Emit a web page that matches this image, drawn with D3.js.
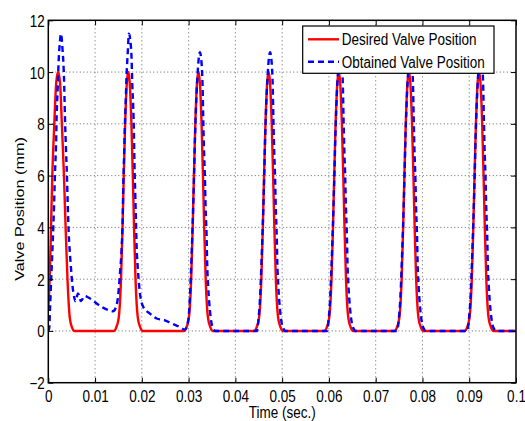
<!DOCTYPE html>
<html><head><meta charset="utf-8">
<script src="https://cdn.jsdelivr.net/npm/d3@7"></script>
<style>html,body{margin:0;padding:0;background:#fff;} svg{display:block;}</style>
</head><body>
<svg id="chart" width="525" height="421"></svg>
<script>
const xTicks = [0,0.01,0.02,0.03,0.04,0.05,0.06,0.07,0.08,0.09,0.1];
const xTickLabels = ["0","0.01","0.02","0.03","0.04","0.05","0.06","0.07","0.08","0.09","0.1"];
const yTicks = [-2,0,2,4,6,8,10,12];
const yTickLabels = ["\u22122","0","2","4","6","8","10","12"];
const seriesNames = ["Desired Valve Position","Obtained Valve Position"];
const xTitle = "Time (sec.)";
const yTitle = "Valve Position (mm)";

// Desired valve position [time (s), position (mm)]
const desiredPoints = [
[0,0.9],[0.0003,2],[0.00058,4],[0.00086,6],[0.00128,8],[0.0017,9.6],[0.0021,10],[0.0025,9.6],[0.0029,8],[0.00335,6],[0.0037,4],[0.0041,2],[0.0046,0.5],[0.0051,0.12],[0.0056,0],
[0.0140,0],[0.0145,0.12],[0.01505,0.5],[0.01555,2],[0.01587,4],[0.01613,6],[0.01643,8],[0.0168,9.6],[0.0171,10],[0.0174,9.6],[0.01777,8],[0.01807,6],[0.01833,4],[0.01865,2],[0.01915,0.5],[0.0197,0.12],[0.0202,0],
[0.0290,0],[0.0295,0.12],[0.03005,0.5],[0.03055,2],[0.03087,4],[0.03113,6],[0.03143,8],[0.0318,9.6],[0.0321,10],[0.0324,9.6],[0.03277,8],[0.03307,6],[0.03333,4],[0.03365,2],[0.03415,0.5],[0.0347,0.12],[0.0352,0],
[0.0440,0],[0.0445,0.12],[0.04505,0.5],[0.04555,2],[0.04587,4],[0.04613,6],[0.04643,8],[0.0468,9.6],[0.0471,10],[0.0474,9.6],[0.04777,8],[0.04807,6],[0.04833,4],[0.04865,2],[0.04915,0.5],[0.0497,0.12],[0.0502,0],
[0.0590,0],[0.0595,0.12],[0.06005,0.5],[0.06055,2],[0.06087,4],[0.06113,6],[0.06143,8],[0.0618,9.6],[0.0621,10],[0.0624,9.6],[0.06277,8],[0.06307,6],[0.06333,4],[0.06365,2],[0.06415,0.5],[0.0647,0.12],[0.0652,0],
[0.0740,0],[0.0745,0.12],[0.07505,0.5],[0.07555,2],[0.07587,4],[0.07613,6],[0.07643,8],[0.0768,9.6],[0.0771,10],[0.0774,9.6],[0.07777,8],[0.07807,6],[0.07833,4],[0.07865,2],[0.07915,0.5],[0.0797,0.12],[0.0802,0],
[0.0890,0],[0.0895,0.12],[0.09005,0.5],[0.09055,2],[0.09087,4],[0.09113,6],[0.09143,8],[0.0918,9.6],[0.0921,10],[0.0924,9.6],[0.09277,8],[0.09307,6],[0.09333,4],[0.09365,2],[0.09415,0.5],[0.0947,0.12],[0.0952,0],
[0.1,0]
];

// Obtained valve position [time (s), position (mm)]
const obtainedPoints = [
[0,0],[0.0002,0.1],[0.00036,0.8],[0.00064,2.1],[0.00085,3.0],[0.00107,4.0],[0.00122,4.8],[0.00143,6.1],[0.00165,7.2],[0.00179,8.3],[0.00201,9.4],[0.00222,10.45],[0.0025,11.2],[0.00271,11.48],[0.00303,10.9],[0.00335,9.8],[0.00357,8.2],[0.00378,7.0],[0.004,5.9],[0.00415,4.9],[0.00436,3.8],[0.00474,2.7],[0.00517,1.75],[0.0056,1.25],[0.00581,1.15],[0.00635,1.45],[0.00699,1.15],[0.00774,1.35],[0.00848,1.3],[0.00934,1.2],[0.01041,1.05],[0.01169,0.9],[0.01297,0.8],[0.01383,0.76],[0.01442,0.9],
[0.01489,1.3],[0.01532,2.2],[0.01568,3.2],[0.0159,4.27],[0.01603,5.56],[0.01618,6.6],[0.01632,7.6],[0.01654,8.78],[0.01675,9.94],[0.01697,10.7],[0.01724,11.48],[0.01761,11.1],[0.01782,10.45],[0.01795,9.55],[0.01816,8.65],[0.01831,7.6],[0.01842,6.46],[0.01859,5.3],[0.01874,4.27],[0.01889,3.24],[0.01917,2.34],[0.0196,1.44],[0.0203,0.93],[0.02173,0.67],[0.02316,0.48],[0.02494,0.41],[0.02637,0.29],[0.02814,0.15],[0.02921,0.05],
[0.02991,0.4],[0.03028,1.3],[0.03049,2.2],[0.0307,3.24],[0.03098,4.79],[0.03118,6.08],[0.03135,7.36],[0.03156,8.52],[0.03184,9.68],[0.0322,10.58],[0.03241,10.77],[0.03278,10.32],[0.03299,9.42],[0.03312,8.26],[0.03327,7.1],[0.03348,5.95],[0.03363,4.79],[0.03385,3.63],[0.03397,2.6],[0.03419,1.7],[0.03455,0.8],[0.03491,0.29],[0.0353,0.08],[0.0357,0],
[0.0446,0],[0.04491,0.4],[0.04528,1.3],[0.04549,2.2],[0.0457,3.24],[0.04598,4.79],[0.04618,6.08],[0.04635,7.36],[0.04656,8.52],[0.04684,9.68],[0.0472,10.58],[0.04741,10.77],[0.04778,10.32],[0.04799,9.42],[0.04812,8.26],[0.04827,7.1],[0.04848,5.95],[0.04863,4.79],[0.04885,3.63],[0.04897,2.6],[0.04919,1.7],[0.04955,0.8],[0.04991,0.29],[0.0503,0.08],[0.0507,0],
[0.0596,0],[0.05991,0.4],[0.06028,1.3],[0.06049,2.2],[0.0607,3.24],[0.06098,4.79],[0.06118,6.08],[0.06135,7.36],[0.06156,8.52],[0.06184,9.68],[0.0622,10.58],[0.06241,10.77],[0.06278,10.32],[0.06299,9.42],[0.06312,8.26],[0.06327,7.1],[0.06348,5.95],[0.06363,4.79],[0.06385,3.63],[0.06397,2.6],[0.06419,1.7],[0.06455,0.8],[0.06491,0.29],[0.0653,0.08],[0.0657,0],
[0.0746,0],[0.07491,0.4],[0.07528,1.3],[0.07549,2.2],[0.0757,3.24],[0.07598,4.79],[0.07618,6.08],[0.07635,7.36],[0.07656,8.52],[0.07684,9.68],[0.0772,10.58],[0.07741,10.77],[0.07778,10.32],[0.07799,9.42],[0.07812,8.26],[0.07827,7.1],[0.07848,5.95],[0.07863,4.79],[0.07885,3.63],[0.07897,2.6],[0.07919,1.7],[0.07955,0.8],[0.07991,0.29],[0.0803,0.08],[0.0807,0],
[0.0896,0],[0.08991,0.4],[0.09028,1.3],[0.09049,2.2],[0.0907,3.24],[0.09098,4.79],[0.09118,6.08],[0.09135,7.36],[0.09156,8.52],[0.09184,9.68],[0.0922,10.58],[0.09241,10.77],[0.09278,10.32],[0.09299,9.42],[0.09312,8.26],[0.09327,7.1],[0.09348,5.95],[0.09363,4.79],[0.09385,3.63],[0.09397,2.6],[0.09419,1.7],[0.09455,0.8],[0.09491,0.29],[0.0953,0.08],[0.0957,0],
[0.1,0]
];

const FONT = "'Liberation Sans', Arial, Helvetica, sans-serif";
const FS = 13.5, VS = 1.2;
const m = {left:48.3, right:516, top:20.3, bottom:382.7};
const svg = d3.select("#chart");
const x = d3.scaleLinear().domain([0,0.1]).range([m.left, m.right]);
const y = d3.scaleLinear().domain([-2,12]).range([m.bottom, m.top]);

// grid
const grid = svg.append("g");
grid.selectAll("line.gx").data(xTicks.slice(1,-1)).enter().append("line")
  .attr("x1",d=>x(d)).attr("x2",d=>x(d)).attr("y1",m.top).attr("y2",m.bottom)
  .attr("stroke","#666").attr("stroke-width",1).attr("stroke-dasharray","1,3");
grid.selectAll("line.gy").data(yTicks.slice(1,-1)).enter().append("line")
  .attr("x1",m.left).attr("x2",m.right).attr("y1",d=>y(d)).attr("y2",d=>y(d))
  .attr("stroke","#666").attr("stroke-width",1).attr("stroke-dasharray","1,2.5");

// lines
svg.append("clipPath").attr("id","clip").append("rect")
  .attr("x",m.left).attr("y",m.top).attr("width",m.right-m.left).attr("height",m.bottom-m.top);
const line = d3.line().x(d=>x(d[0])).y(d=>y(d[1])).curve(d3.curveMonotoneX);
const plot = svg.append("g").attr("clip-path","url(#clip)");
plot.append("path").datum(desiredPoints).attr("d",line).attr("fill","none")
  .attr("stroke","#ff0000").attr("stroke-width",2.4).attr("stroke-linejoin","round");
plot.append("path").datum(obtainedPoints).attr("d",line).attr("fill","none")
  .attr("stroke","#0000ff").attr("stroke-width",2.4).attr("stroke-dasharray","6,4");

// axes ticks
function styleAxis(g){ g.select(".domain").remove(); g.selectAll(".tick line").attr("stroke","#000").attr("stroke-width",1); }
const axB = svg.append("g").attr("transform",`translate(0,${m.bottom})`)
  .call(d3.axisBottom(x).tickValues(xTicks).tickSize(-5).tickSizeOuter(0).tickFormat((d,i)=>xTickLabels[i]));
styleAxis(axB);
axB.selectAll(".tick text").attr("y",null).attr("dy",null)
  .attr("transform",`translate(0,19.5) scale(1,${VS})`)
  .attr("font-family",FONT).attr("font-size",FS).attr("fill","#000").attr("text-anchor","middle");
const axL = svg.append("g").attr("transform",`translate(${m.left},0)`)
  .call(d3.axisLeft(y).tickValues(yTicks).tickSize(-5).tickSizeOuter(0).tickFormat((d,i)=>yTickLabels[i]));
styleAxis(axL);
axL.selectAll(".tick text").attr("x",null).attr("dy",null)
  .attr("transform",`translate(-3.5,6) scale(1,${VS})`)
  .attr("font-family",FONT).attr("font-size",FS).attr("fill","#000").attr("text-anchor","end");
const axT = svg.append("g").attr("transform",`translate(0,${m.top})`)
  .call(d3.axisTop(x).tickValues(xTicks).tickSize(-5).tickSizeOuter(0).tickFormat(""));
styleAxis(axT);
const axR = svg.append("g").attr("transform",`translate(${m.right},0)`)
  .call(d3.axisRight(y).tickValues(yTicks).tickSize(-5).tickSizeOuter(0).tickFormat(""));
styleAxis(axR);

// frame
svg.append("rect").attr("x",m.left).attr("y",m.top).attr("width",m.right-m.left).attr("height",m.bottom-m.top)
  .attr("fill","none").attr("stroke","#000").attr("stroke-width",1.5);

// titles
function label(tx,ty,s,anchor,rot){
  svg.append("text").attr("transform", rot ? `translate(${tx},${ty}) rotate(-90) scale(${VS},1)` : `translate(${tx},${ty}) scale(1,${VS})`)
    .attr("font-family",FONT).attr("font-size",FS).attr("fill","#000").attr("text-anchor",anchor).text(s);
}
label((m.left+m.right)/2, 418, xTitle, "middle", false);
label(24, 209, yTitle, "middle", true);

// legend
const lg = svg.append("g");
lg.append("rect").attr("x",302.7).attr("y",26).attr("width",191.3).attr("height",47.3)
  .attr("fill","#fff").attr("stroke","#000").attr("stroke-width",1.2);
const colors = ["#ff0000","#0000ff"], dashes = [null,"6,4"], ly = [39.3,61.7], lb = [45.3,67.5];
seriesNames.forEach((n,i)=>{
  lg.append("line").attr("x1",308).attr("x2",339).attr("y1",ly[i]).attr("y2",ly[i])
    .attr("stroke",colors[i]).attr("stroke-width",2.4).attr("stroke-dasharray",dashes[i]);
  lg.append("text").attr("transform",`translate(341.7,${lb[i]}) scale(1,${VS})`)
    .attr("font-family",FONT).attr("font-size",FS).attr("fill","#000").text(n);
});
</script>
</body></html>
